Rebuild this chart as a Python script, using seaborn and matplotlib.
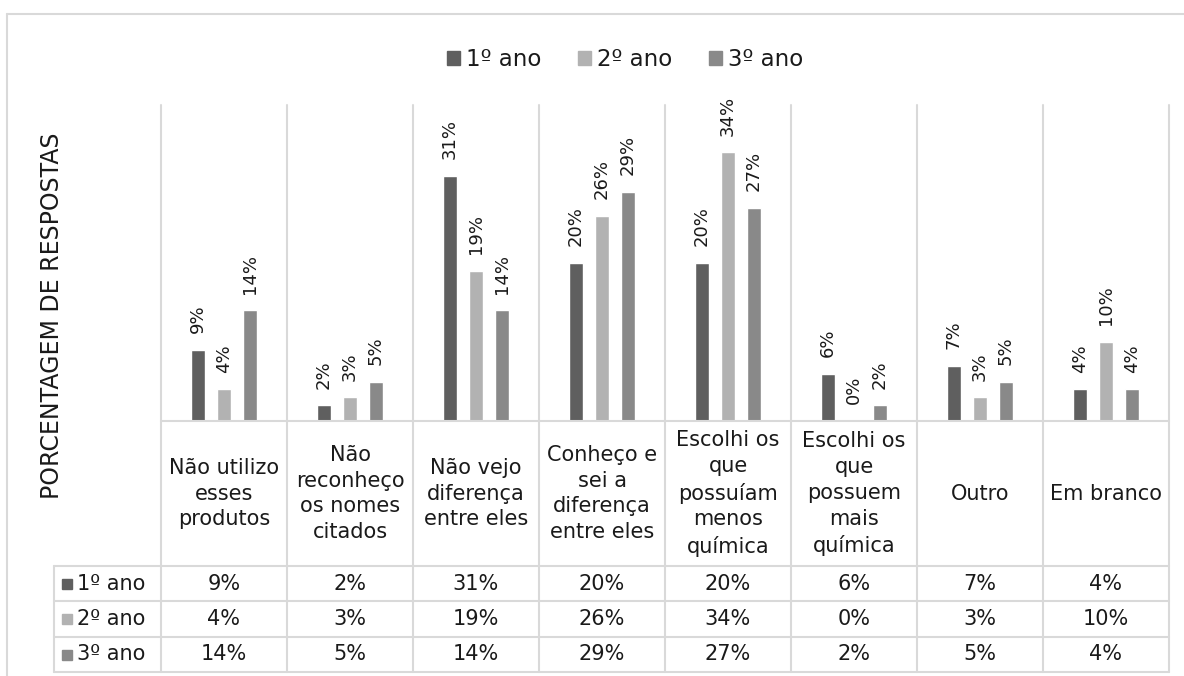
import matplotlib
matplotlib.use("Agg")
import matplotlib.pyplot as plt
import matplotlib.patches as mpatches
from matplotlib.lines import Line2D
import seaborn as sns
import pandas as pd

CATEGORIES = [
    "Não utilizo\nesses\nprodutos",
    "Não\nreconheço\nos nomes\ncitados",
    "Não vejo\ndiferença\nentre eles",
    "Conheço e\nsei a\ndiferença\nentre eles",
    "Escolhi os\nque\npossuíam\nmenos\nquímica",
    "Escolhi os\nque\npossuem\nmais\nquímica",
    "Outro",
    "Em branco",
]
SERIES = ["1º ano", "2º ano", "3º ano"]
ANO1 = [9, 2, 31, 20, 20, 6, 7, 4]
ANO2 = [4, 3, 19, 26, 34, 0, 3, 10]
ANO3 = [14, 5, 14, 29, 27, 2, 5, 4]
Y_LABEL = "PORCENTAGEM DE RESPOSTAS"

COLORS = ["#5f5f5f", "#b2b2b2", "#898989"]
GRID = "#d9d9d9"
TXT = "#1a1a1a"

sns.set_theme(style="white")
plt.rcParams["font.family"] = ["DejaVu Sans"]

W, H = 1184, 676


def fx(x):
    return x / W


def fy(y):
    return 1 - y / H


def hline(fig, y, x0, x1):
    fig.add_artist(Line2D([fx(x0), fx(x1)], [fy(y), fy(y)],
                          transform=fig.transFigure, color=GRID, lw=1.5))


def vline(fig, x, y0, y1):
    fig.add_artist(Line2D([fx(x), fx(x)], [fy(y0), fy(y1)],
                          transform=fig.transFigure, color=GRID, lw=1.5))


values = [ANO1, ANO2, ANO3]
rows = []
for s, vals in zip(SERIES, values):
    for c, v in zip(CATEGORIES, vals):
        rows.append({"cat": c, "serie": s, "pct": v})
df = pd.DataFrame(rows)

fig = plt.figure(figsize=(W / 100, H / 100), dpi=100)

# plot region in pixels
left, right, top, bottom = 161, 1169, 105, 421
col_w = (right - left) / len(CATEGORIES)
ax = fig.add_axes([fx(left), fy(bottom), (right - left) / W, (bottom - top) / H])

sns.barplot(data=df, x="cat", y="pct", hue="serie", palette=COLORS,
            width=0.62, gap=0.49, ax=ax, legend=False, saturation=1)
ax.set_ylim(0, 40)
ax.set_xlim(-0.5, len(CATEGORIES) - 0.5)
ax.set_axis_off()

for cont in ax.containers:
    ax.bar_label(cont, fmt="%g%%", rotation=90, padding=12, fontsize=13,
                 color=TXT)

# outer frame
hline(fig, 14, 7, W)
vline(fig, 7, 14, H)

# table grid
row_y = [566, 601, 637, 672]
for k in range(len(CATEGORIES) + 1):
    vline(fig, left + k * col_w, top, row_y[-1])
hline(fig, bottom, left, right)
for y in row_y:
    hline(fig, y, 54, right)
vline(fig, 54, row_y[0], row_y[-1])

# category labels
for i, c in enumerate(CATEGORIES):
    fig.text(fx(left + (i + 0.5) * col_w), fy((bottom + row_y[0]) / 2), c,
             ha="center", va="center", fontsize=15, linespacing=1.37,
             color=TXT)

# data table rows
for r, (s, vals, col) in enumerate(zip(SERIES, values, COLORS)):
    yc = (row_y[r] + row_y[r + 1]) / 2
    fig.add_artist(mpatches.Rectangle((fx(62), fy(yc + 5)), 10 / W, 10 / H,
                                      transform=fig.transFigure, color=col))
    fig.text(fx(77), fy(yc), s, ha="left", va="center", fontsize=15,
             color=TXT)
    for i, v in enumerate(vals):
        fig.text(fx(left + (i + 0.5) * col_w), fy(yc), f"{v}%",
                 ha="center", va="center", fontsize=15, color=TXT)

# legend
handles = [mpatches.Patch(color=c, label=s) for s, c in zip(SERIES, COLORS)]
fig.legend(handles=handles, loc="center", bbox_to_anchor=(fx(625), fy(60)),
           ncol=3, frameon=False, fontsize=16.5, handlelength=0.57,
           handleheight=0.57, handletextpad=0.25, columnspacing=1.6,
           labelcolor=TXT)

fig.text(fx(52), fy(316), Y_LABEL, rotation=90, ha="center", va="center",
         fontsize=17, color=TXT)

fig.savefig("out.png", dpi=100)
